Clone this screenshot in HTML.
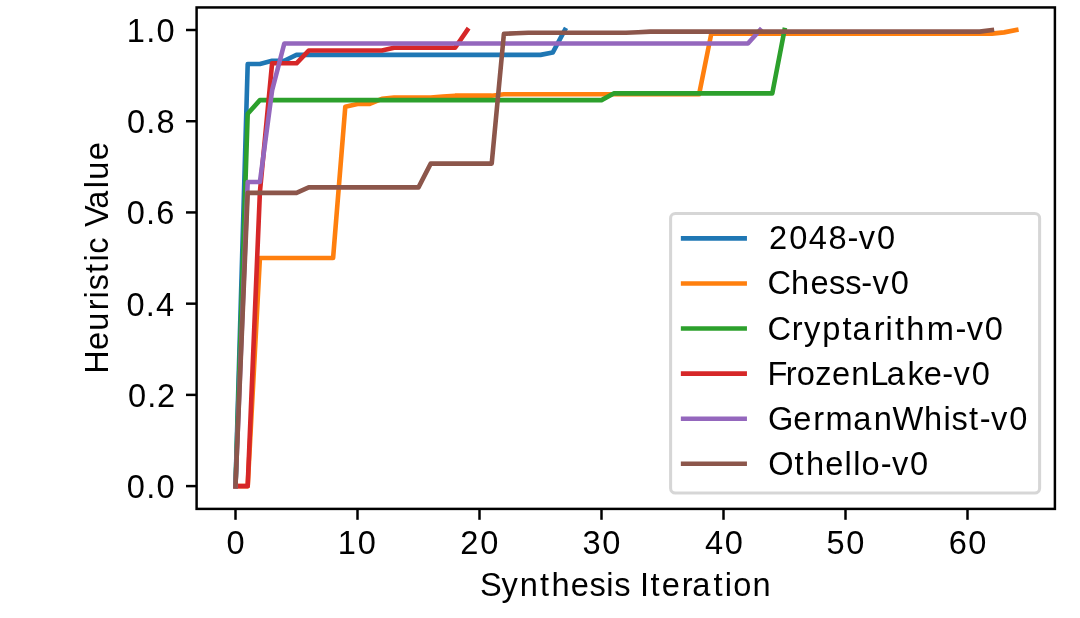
<!DOCTYPE html>
<html lang="en"><head><meta charset="utf-8"><title>Heuristic Value vs Synthesis Iteration</title>
<style>html,body{margin:0;padding:0;background:#fff}body{width:1080px;height:618px;overflow:hidden}svg{display:block}svg{will-change:transform}text{font-family:"Liberation Sans",sans-serif;font-size:32.6px;fill:#000}</style>
</head><body>
<svg width="1080" height="618" viewBox="0 0 1080 618">
<rect x="0" y="0" width="1080" height="618" fill="#ffffff"/>
<defs><clipPath id="ax"><rect x="196.60" y="7.20" width="858.30" height="501.70"/></clipPath></defs>
<g clip-path="url(#ax)" fill="none" stroke-width="4.62" stroke-linejoin="round" stroke-linecap="square">
<polyline stroke="#1f77b4" points="235.50,486.10 247.70,63.98 259.90,63.98 272.10,60.79 284.30,60.79 296.50,54.86 308.70,54.86 320.90,54.86 333.10,54.86 345.30,54.86 357.50,54.86 369.70,54.86 381.90,54.86 394.10,54.86 406.30,54.86 418.50,54.86 430.70,54.86 442.90,54.86 455.10,54.86 467.30,54.86 479.50,54.86 491.70,54.86 503.90,54.86 516.10,54.86 528.30,54.86 540.50,54.86 552.70,52.58 564.90,30.00"/>
<polyline stroke="#ff7f0e" points="235.50,486.10 247.70,486.10 259.90,258.05 272.10,258.05 284.30,258.05 296.50,258.05 308.70,258.05 320.90,258.05 333.10,258.05 345.30,106.67 357.50,103.89 369.70,103.89 381.90,98.87 394.10,97.51 406.30,97.51 418.50,97.51 430.70,97.51 442.90,96.59 455.10,95.68 467.30,95.68 479.50,95.68 491.70,95.68 503.90,94.31 516.10,94.31 528.30,94.31 540.50,94.31 552.70,94.31 564.90,94.31 577.10,94.31 589.30,94.31 601.50,94.31 613.70,94.31 625.90,94.31 638.10,94.31 650.30,94.31 662.50,94.31 674.70,94.31 686.90,94.31 699.10,94.31 711.30,33.65 723.50,33.65 735.70,33.65 747.90,33.65 760.10,33.65 772.30,33.65 784.50,33.65 796.70,33.65 808.90,33.65 821.10,33.65 833.30,33.65 845.50,33.65 857.70,33.65 869.90,33.65 882.10,33.65 894.30,33.65 906.50,33.65 918.70,33.65 930.90,33.65 943.10,33.65 955.30,33.65 967.50,33.65 979.70,33.65 991.90,33.65 1004.10,32.38 1016.30,30.00"/>
<polyline stroke="#2ca02c" points="235.50,486.10 247.70,113.79 259.90,100.11 272.10,100.11 284.30,100.11 296.50,100.11 308.70,100.11 320.90,100.11 333.10,100.11 345.30,100.11 357.50,100.11 369.70,100.11 381.90,100.11 394.10,100.11 406.30,100.11 418.50,100.11 430.70,100.11 442.90,100.11 455.10,100.11 467.30,100.11 479.50,100.11 491.70,100.11 503.90,100.11 516.10,100.11 528.30,100.11 540.50,100.11 552.70,100.11 564.90,100.11 577.10,100.11 589.30,100.11 601.50,100.11 613.70,93.40 625.90,93.40 638.10,93.40 650.30,93.40 662.50,93.40 674.70,93.40 686.90,93.40 699.10,93.40 711.30,93.40 723.50,93.40 735.70,93.40 747.90,93.40 760.10,93.40 772.30,93.40 784.50,30.00"/>
<polyline stroke="#d62728" points="235.50,486.10 247.70,486.10 259.90,192.14 272.10,63.30 284.30,63.30 296.50,63.30 308.70,50.53 320.90,50.53 333.10,50.53 345.30,50.53 357.50,50.53 369.70,50.53 381.90,50.53 394.10,47.79 406.30,47.79 418.50,47.79 430.70,47.79 442.90,47.79 455.10,47.79 467.30,30.00"/>
<polyline stroke="#9467bd" points="235.50,486.10 247.70,182.02 259.90,182.02 272.10,90.44 284.30,43.46 296.50,43.46 308.70,43.46 320.90,43.46 333.10,43.46 345.30,43.46 357.50,43.46 369.70,43.46 381.90,43.46 394.10,43.46 406.30,43.46 418.50,43.46 430.70,43.46 442.90,43.46 455.10,43.46 467.30,43.46 479.50,43.46 491.70,43.46 503.90,43.46 516.10,43.46 528.30,43.46 540.50,43.46 552.70,43.46 564.90,43.46 577.10,43.46 589.30,43.46 601.50,43.46 613.70,43.46 625.90,43.46 638.10,43.46 650.30,43.46 662.50,43.46 674.70,43.46 686.90,43.46 699.10,43.46 711.30,43.46 723.50,43.46 735.70,43.46 747.90,43.46 760.10,30.00"/>
<polyline stroke="#8c564b" points="235.50,486.10 247.70,192.87 259.90,192.87 272.10,192.87 284.30,192.87 296.50,192.87 308.70,187.36 320.90,187.36 333.10,187.36 345.30,187.36 357.50,187.36 369.70,187.36 381.90,187.36 394.10,187.36 406.30,187.36 418.50,187.36 430.70,163.64 442.90,163.64 455.10,163.64 467.30,163.64 479.50,163.64 491.70,163.64 503.90,33.88 516.10,33.20 528.30,32.74 540.50,32.74 552.70,32.74 564.90,32.74 577.10,32.74 589.30,32.74 601.50,32.74 613.70,32.74 625.90,32.74 638.10,32.29 650.30,31.60 662.50,31.60 674.70,31.60 686.90,31.60 699.10,31.60 711.30,31.60 723.50,31.60 735.70,31.60 747.90,31.60 760.10,31.60 772.30,31.60 784.50,31.60 796.70,31.60 808.90,31.60 821.10,31.60 833.30,31.60 845.50,31.60 857.70,31.60 869.90,31.60 882.10,31.60 894.30,31.60 906.50,31.60 918.70,31.60 930.90,31.60 943.10,31.60 955.30,31.60 967.50,31.60 979.70,31.60 991.90,30.00"/>
</g>
<g stroke="#000" stroke-width="2.48" fill="none">
<line x1="235.50" y1="508.90" x2="235.50" y2="519.80"/>
<line x1="357.50" y1="508.90" x2="357.50" y2="519.80"/>
<line x1="479.50" y1="508.90" x2="479.50" y2="519.80"/>
<line x1="601.50" y1="508.90" x2="601.50" y2="519.80"/>
<line x1="723.50" y1="508.90" x2="723.50" y2="519.80"/>
<line x1="845.50" y1="508.90" x2="845.50" y2="519.80"/>
<line x1="967.50" y1="508.90" x2="967.50" y2="519.80"/>
<line x1="196.60" y1="486.10" x2="186.00" y2="486.10"/>
<line x1="196.60" y1="394.88" x2="186.00" y2="394.88"/>
<line x1="196.60" y1="303.66" x2="186.00" y2="303.66"/>
<line x1="196.60" y1="212.44" x2="186.00" y2="212.44"/>
<line x1="196.60" y1="121.22" x2="186.00" y2="121.22"/>
<line x1="196.60" y1="30.00" x2="186.00" y2="30.00"/>
<rect x="196.60" y="7.45" width="858.30" height="501.45" stroke-linejoin="miter"/>
</g>
<text x="126.86 146.15 156.39" y="498.10">0.0</text>
<text x="127.90 147.19 157.02" y="406.88">0.2</text>
<text x="126.54 145.83 156.07" y="315.66">0.4</text>
<text x="126.75 146.05 156.28" y="224.44">0.6</text>
<text x="126.92 146.21 156.45" y="133.22">0.8</text>
<text x="126.69 146.15 156.39" y="42.00">1.0</text>
<text x="226.53" y="553.80">0</text>
<text x="337.84 357.70" y="553.80">10</text>
<text x="460.17 480.27" y="553.80">20</text>
<text x="582.57 602.22" y="553.80">30</text>
<text x="704.95 724.64" y="553.80">40</text>
<text x="826.40 846.21" y="553.80">50</text>
<text x="948.63 968.32" y="553.80">60</text>
<text x="480.08 501.61 519.73 539.99 551.43 570.81 589.46 606.15 614.18 630.18 640.05 650.60 661.80 681.85 692.30 713.47 724.84 733.16 752.49" y="595.80">Synthesis Iteration</text>
<text transform="translate(107.90,370.70) rotate(-90)" x="-3.18 20.75 39.95 60.42 72.31 80.35 97.80 109.17 117.06 134.09 143.64 161.95 182.34 190.94 210.40" y="0">Heuristic Value</text>
<rect x="670.6" y="213.4" width="369.0" height="279.6" rx="4.8" ry="4.8" fill="#ffffff" fill-opacity="0.8" stroke="#cccccc" stroke-opacity="0.8" stroke-width="3.05"/>
<line x1="680.85" y1="238.35" x2="746.95" y2="238.35" stroke="#1f77b4" stroke-width="4.62"/>
<text x="769.06 789.16 808.85 828.55 847.62 858.81 876.89" y="249.30">2048-v0</text>
<line x1="680.85" y1="283.44" x2="746.95" y2="283.44" stroke="#ff7f0e" stroke-width="4.62"/>
<text x="767.56 791.07 810.44 829.10 845.22 861.37 872.56 890.64" y="294.40">Chess-v0</text>
<line x1="680.85" y1="328.53" x2="746.95" y2="328.53" stroke="#2ca02c" stroke-width="4.62"/>
<text x="767.56 791.84 804.04 822.30 842.45 852.38 873.63 885.52 894.88 906.32 926.75 955.48 966.67 984.75" y="339.50">Cryptarithm-v0</text>
<line x1="680.85" y1="373.62" x2="746.95" y2="373.62" stroke="#d62728" stroke-width="4.62"/>
<text x="767.58 785.78 796.71 815.35 831.99 851.33 870.33 886.63 907.39 923.68 942.36 953.55 971.63" y="384.60">FrozenLake-v0</text>
<line x1="680.85" y1="418.71" x2="746.95" y2="418.71" stroke="#9467bd" stroke-width="4.62"/>
<text x="768.01 793.20 813.25 825.48 853.30 873.83 892.54 924.00 943.55 951.58 969.03 979.87 991.06 1009.14" y="429.70">GermanWhist-v0</text>
<line x1="680.85" y1="463.80" x2="746.95" y2="463.80" stroke="#8c564b" stroke-width="4.62"/>
<text x="768.21 794.52 805.96 825.33 844.53 853.13 861.46 880.72 891.91 909.99" y="474.80">Othello-v0</text>
</svg>
</body></html>
